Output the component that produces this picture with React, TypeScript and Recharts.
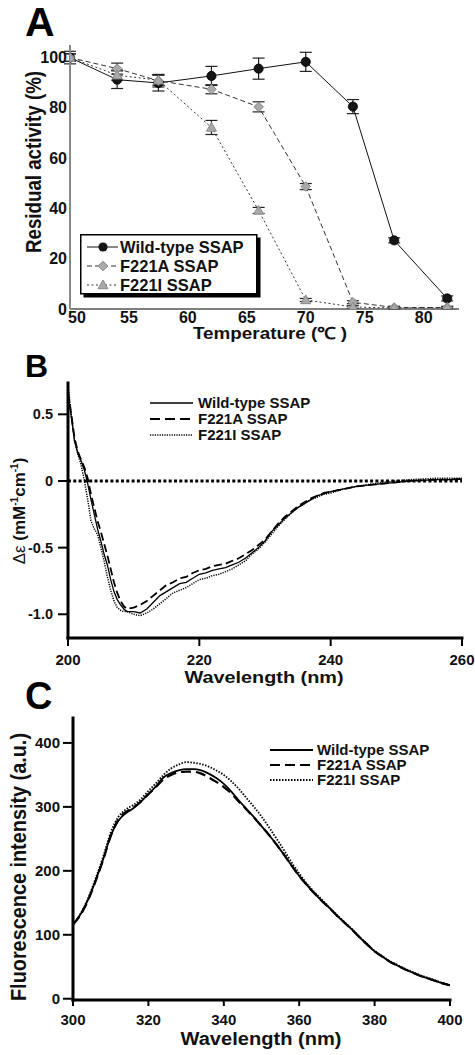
import React from 'react';
import { LineChart, Line, XAxis, YAxis, ErrorBar, ReferenceLine, Legend } from 'recharts';

const FONT = '"Liberation Sans", Arial, Helvetica, sans-serif';

// ---------------- Panel A: residual activity ----------------
const temperatures = [50, 54, 57.5, 62, 66, 70, 74, 77.5, 82];
const wildTypeActivity = [100, 91.2, 89.9, 92.7, 95.6, 98.3, 80.5, 27.3, 4.2];
const wildTypeError = [2.5, 3.5, 3.2, 3.8, 4.2, 3.8, 2.8, 1.0, 1.0];
const f221aActivity = [100, 95.6, 90.8, 87.4, 80.4, 48.7, 2.7, 0.6, 0.6];
const f221aError = [1.5, 2.2, 2.5, 1.8, 2.0, 1.2, 0.6, 0.5, 0.5];
const f221iActivity = [100, 93.0, 91.0, 72.2, 39.2, 3.6, 0.8, 0.4, 0.5];
const f221iError = [1.5, 2.0, 2.0, 2.8, 1.2, 0.6, 0.5, 0.3, 0.3];
const temperatureTicks = [50, 55, 60, 65, 70, 75, 80];
const activityTicks = [0, 20, 40, 60, 80, 100];

// ---------------- Panel B: CD spectra ----------------
const cdWavelengths = [
  200, 200.5, 201, 201.5, 202, 202.5, 203, 203.5, 204, 204.5, 205, 205.5, 206, 206.5, 207, 207.5, 208, 208.5, 209,
  210, 211, 212, 213, 214, 215, 216, 217, 218, 219, 220, 221, 222, 223, 224, 225, 226, 227, 228, 229, 230,
  231, 232, 233, 234, 235, 236, 237, 238, 239, 240,
  242, 244, 246, 248, 250, 252, 254, 256, 258, 260,
];
const cdWildType = [
  0.66, 0.48, 0.30, 0.21, 0.15, 0.08, -0.02, -0.14, -0.25, -0.36, -0.45, -0.55, -0.63, -0.74, -0.83, -0.89, -0.93, -0.96, -0.98,
  -0.98, -0.99, -0.96, -0.91, -0.86, -0.83, -0.80, -0.77, -0.76, -0.73, -0.70, -0.69, -0.67, -0.66, -0.65, -0.63, -0.61, -0.58, -0.54, -0.50, -0.45,
  -0.38, -0.33, -0.28, -0.24, -0.20, -0.17, -0.14, -0.11, -0.095, -0.08,
  -0.06, -0.04, -0.03, -0.02, -0.01, 0.0, 0.005, 0.01, 0.01, 0.015,
];
const cdF221A = [
  0.66, 0.50, 0.32, 0.22, 0.16, 0.10, 0.02, -0.10, -0.20, -0.30, -0.38, -0.47, -0.56, -0.66, -0.76, -0.84, -0.90, -0.94, -0.96,
  -0.95, -0.93, -0.90, -0.86, -0.82, -0.78, -0.76, -0.73, -0.72, -0.69, -0.67, -0.66, -0.64, -0.63, -0.62, -0.60, -0.58, -0.55, -0.52, -0.48, -0.44,
  -0.38, -0.32, -0.27, -0.23, -0.19, -0.16, -0.13, -0.11, -0.09, -0.08,
  -0.06, -0.04, -0.03, -0.02, -0.01, 0.0, 0.005, 0.01, 0.01, 0.015,
];
const cdF221I = [
  0.72, 0.50, 0.30, 0.20, 0.12, 0.00, -0.14, -0.30, -0.36, -0.40, -0.50, -0.60, -0.72, -0.82, -0.90, -0.95, -0.97, -0.98, -0.98,
  -1.00, -1.01, -0.99, -0.96, -0.92, -0.88, -0.84, -0.82, -0.80, -0.77, -0.74, -0.73, -0.71, -0.70, -0.68, -0.66, -0.63, -0.60, -0.55, -0.51, -0.46,
  -0.40, -0.34, -0.29, -0.24, -0.20, -0.17, -0.14, -0.12, -0.10, -0.09,
  -0.06, -0.04, -0.025, -0.01, 0.0, 0.01, 0.015, 0.02, 0.02, 0.02,
];
const cdXTicks = [200, 220, 240, 260];
const cdYTicks = [-1.0, -0.5, 0, 0.5];

// ---------------- Panel C: fluorescence spectra ----------------
const flWavelengths = [
  300, 302, 304, 306, 308, 310, 312, 314, 316, 318, 320, 322, 324, 326, 328, 330, 332, 334, 336, 338, 340,
  342, 344, 346, 348, 350, 352, 354, 356, 358, 360, 362, 364, 366, 368, 370, 372, 374, 376, 378, 380,
  382, 384, 386, 388, 390, 392, 394, 396, 398, 400,
];
const flWildType = [
  116, 132, 155, 185, 218, 255, 278, 290, 298, 308, 320, 332, 346, 353, 357, 359, 359, 357, 352, 345, 336,
  324, 310, 297, 284, 270, 256, 241, 225, 208, 192, 178, 165, 153, 142, 130, 119, 108, 96, 85, 74,
  66, 58, 52, 46, 41, 36, 32, 28, 24, 21,
];
const flF221A = [
  116, 131, 154, 184, 217, 254, 280, 292, 299, 308, 320, 331, 343, 350, 354, 355, 355, 352, 346, 339, 331,
  321, 308, 296, 283, 270, 256, 241, 225, 208, 192, 178, 165, 153, 142, 130, 119, 108, 96, 85, 74,
  66, 58, 52, 46, 41, 36, 32, 28, 24, 21,
];
const flF221I = [
  116, 133, 157, 188, 222, 260, 284, 296, 303, 312, 325, 337, 350, 360, 366, 370, 369, 367, 363, 357, 350,
  340, 328, 314, 300, 285, 268, 250, 232, 213, 196, 180, 167, 155, 143, 131, 120, 109, 97, 86, 75,
  67, 59, 53, 47, 42, 37, 33, 29, 25, 21,
];
const flXTicks = [300, 320, 340, 360, 380, 400];
const flYTicks = [0, 100, 200, 300, 400];

const seriesNames = ['Wild-type SSAP', 'F221A SSAP', 'F221I SSAP'];

// ---------------- tables built from the arrays ----------------
const rowsA = temperatures.map((t, k) => ({
  t,
  wt: wildTypeActivity[k], wtErr: wildTypeError[k],
  fa: f221aActivity[k], faErr: f221aError[k],
  fi: f221iActivity[k], fiErr: f221iError[k],
}));
const rowsB = cdWavelengths.map((w, k) => ({ w, wt: cdWildType[k], fa: cdF221A[k], fi: cdF221I[k] }));
const rowsC = flWavelengths.map((w, k) => ({ w, wt: flWildType[k], fa: flF221A[k], fi: flF221I[k] }));

// ---------------- markers ----------------
const circleDot = (p: any) => (
  <circle key={`c${p.index}`} cx={p.cx} cy={p.cy} r={4.6} fill="#151515" stroke="#000" strokeWidth={0.8} />
);
const diamondPts = (cx: number, cy: number, r: number) => `${cx},${cy - r} ${cx + r},${cy} ${cx},${cy + r} ${cx - r},${cy}`;
const trianglePts = (cx: number, cy: number, r: number) => `${cx},${cy - r} ${cx + r},${cy + r * 0.75} ${cx - r},${cy + r * 0.75}`;
const diamondDot = (p: any) => (
  <polygon key={`d${p.index}`} points={diamondPts(p.cx, p.cy, 4.8)} fill="#a9a9a9" stroke="#8a8a8a" strokeWidth={1} />
);
const triangleDot = (p: any) => (
  <polygon key={`t${p.index}`} points={trianglePts(p.cx, p.cy, 5)} fill="#a9a9a9" stroke="#8a8a8a" strokeWidth={1} />
);

// ---------------- text helpers ----------------
const boldText = { fontFamily: FONT, fontWeight: 700, fill: '#111' } as const;

const tickAY = (p: any) => (
  <text x={p.x} y={p.y + 5.5} textAnchor="end" fontSize={16} {...boldText}>{p.payload.value}</text>
);
const tickAX = (p: any) => (
  <text x={p.x + (p.payload.value === 50 ? 7 : 0)} y={p.y + 13.5} textAnchor="middle" fontSize={16} {...boldText}>{p.payload.value}</text>
);
const fmtCd = (v: number) => (v === 0 ? '0' : v.toFixed(1));
const tickBY = (p: any) => (
  <text x={p.x} y={p.y + 5} textAnchor="end" fontSize={14.5} {...boldText}>{fmtCd(p.payload.value)}</text>
);
const tickBX = (p: any) => (
  <text x={p.x} y={p.y + 19} textAnchor="middle" fontSize={15} {...boldText}>{p.payload.value}</text>
);
const tickCY = (p: any) => (
  <text x={p.x} y={p.y + 5.5} textAnchor="end" fontSize={15} {...boldText}>{p.payload.value}</text>
);
const tickCX = (p: any) => (
  <text x={p.x} y={p.y + 19} textAnchor="middle" fontSize={15} {...boldText}>{p.payload.value}</text>
);

const vLabel = (x: number, y: number, size: number, len: number | undefined, content: React.ReactNode) => () => (
  <text
    x={x}
    y={y}
    transform={`rotate(-90 ${x} ${y})`}
    textAnchor="middle"
    fontSize={size}
    textLength={len}
    lengthAdjust={len ? 'spacingAndGlyphs' : undefined}
    {...boldText}
  >
    {content}
  </text>
);
const hLabel = (x: number, y: number, size: number, len: number, content: string) => () => (
  <text x={x} y={y} textAnchor="middle" fontSize={size} textLength={len} lengthAdjust="spacingAndGlyphs" {...boldText}>
    {content}
  </text>
);

// ---------------- legends ----------------
const LegendA = () => {
  const rows = [13, 32, 51];
  return (
    <svg width={186} height={68} style={{ display: 'block', overflow: 'visible' }}>
      <rect x={3.5} y={3.5} width={177} height={60} fill="#000" />
      <rect x={0.75} y={0.75} width={176} height={59} fill="#fff" stroke="#000" strokeWidth={1.5} />
      <line x1={7} x2={38} y1={rows[0]} y2={rows[0]} stroke="#111" strokeWidth={1} />
      <circle cx={23} cy={rows[0]} r={4.6} fill="#151515" />
      <line x1={7} x2={38} y1={rows[1]} y2={rows[1]} stroke="#333" strokeWidth={1} strokeDasharray="5 3" />
      <polygon points={diamondPts(23, rows[1], 4.8)} fill="#a9a9a9" stroke="#8a8a8a" />
      <line x1={7} x2={38} y1={rows[2]} y2={rows[2]} stroke="#333" strokeWidth={1} strokeDasharray="2 2.5" />
      <polygon points={trianglePts(23, rows[2], 5)} fill="#a9a9a9" stroke="#8a8a8a" />
      {seriesNames.map((n, k) => (
        <text key={n} x={40} y={rows[k] + 6} fontSize={16.5} {...boldText}>{n}</text>
      ))}
    </svg>
  );
};

const makeLineLegend = (rows: number[], textX: number, dash: string[], widths: number[]) => () => (
  <svg width={190} height={60} style={{ display: 'block', overflow: 'visible' }}>
    {seriesNames.map((n, k) => (
      <g key={n}>
        <line x1={5} x2={48} y1={rows[k]} y2={rows[k]} stroke="#000" strokeWidth={widths[k]} strokeDasharray={dash[k]} />
        <text x={textX} y={rows[k] + 5} fontSize={15} {...boldText}>{n}</text>
      </g>
    ))}
  </svg>
);
const LegendB = makeLineLegend([13, 29, 45], 53, ['', '10 5', '1.2 1.2'], [1.5, 2, 1.5]);
const LegendC = makeLineLegend([10, 25, 40], 52, ['', '10 5', '1.5 1.5'], [1.8, 2.2, 1.8]);

const boxLine = { stroke: '#000', strokeWidth: 3, strokeLinecap: 'square' } as const;

export default function App() {
  return (
    <div style={{ position: 'absolute', left: 0, top: 0, width: 475, height: 1055, background: '#fff', fontFamily: FONT }}>
      <svg width={475} height={1055} style={{ position: 'absolute', left: 0, top: 0 }}>
        <text x={25} y={36} fontSize={41} {...boldText} fill="#000">A</text>
        <text x={25} y={377} fontSize={32} {...boldText} fill="#000">B</text>
        <text x={25} y={709} fontSize={38} {...boldText} fill="#000">C</text>
      </svg>

      {/* Panel A */}
      <div style={{ position: 'absolute', left: 0, top: 0 }}>
        <LineChart width={475} height={345} data={rowsA} margin={{ top: 45, right: 16, bottom: 5, left: 10 }}>
          <XAxis
            xAxisId="b" dataKey="t" type="number" domain={[50, 83]} allowDataOverflow ticks={temperatureTicks}
            height={31} tickSize={0} tickMargin={0} tickLine={false}
            axisLine={{ stroke: '#555', strokeWidth: 1.5 }} tick={tickAX}
            label={hLabel(270, 339, 16.5, 154, 'Temperature (℃ )')}
          />
          <XAxis xAxisId="top" dataKey="t" orientation="top" type="number" domain={[50, 83]} allowDataOverflow height={0} tick={false} tickLine={false} axisLine={{ stroke: '#333', strokeWidth: 1.2 }} />
          <YAxis
            yAxisId="l" type="number" domain={[0, 105]} allowDataOverflow ticks={activityTicks} width={60}
            tickSize={0} tickMargin={3} tickLine={false} axisLine={{ stroke: '#888', strokeWidth: 2 }} tick={tickAY}
            label={vLabel(41, 162, 22, 182, 'Residual activity (%)')}
          />
          <YAxis yAxisId="r" orientation="right" type="number" domain={[0, 105]} allowDataOverflow width={0} tick={false} tickLine={false} axisLine={{ stroke: '#333', strokeWidth: 1.2 }} />
          <Line xAxisId="b" yAxisId="l" dataKey="wt" name={seriesNames[0]} stroke="#111" strokeWidth={1} dot={circleDot} activeDot={false} isAnimationActive={false}>
            <ErrorBar dataKey="wtErr" direction="y" width={6} stroke="#222" strokeWidth={1.2} isAnimationActive={false} />
          </Line>
          <Line xAxisId="b" yAxisId="l" dataKey="fa" name={seriesNames[1]} stroke="#333" strokeWidth={1} strokeDasharray="5 3" dot={diamondDot} activeDot={false} isAnimationActive={false}>
            <ErrorBar dataKey="faErr" direction="y" width={6} stroke="#222" strokeWidth={1.2} isAnimationActive={false} />
          </Line>
          <Line xAxisId="b" yAxisId="l" dataKey="fi" name={seriesNames[2]} stroke="#333" strokeWidth={1} strokeDasharray="2 2.5" dot={triangleDot} activeDot={false} isAnimationActive={false}>
            <ErrorBar dataKey="fiErr" direction="y" width={6} stroke="#222" strokeWidth={1.2} isAnimationActive={false} />
          </Line>
          <Legend layout="vertical" align="center" verticalAlign="middle" wrapperStyle={{ left: 80, top: 234, width: 186, height: 68 }} content={LegendA} />
        </LineChart>
      </div>

      {/* Panel B */}
      <div style={{ position: 'absolute', left: 0, top: 345 }}>
        <LineChart width={475} height={345} data={rowsB} margin={{ top: 38, right: 13, bottom: 5, left: 8 }}>
          <XAxis
            xAxisId="b" dataKey="w" type="number" domain={[200, 260]} allowDataOverflow ticks={cdXTicks}
            height={47} tickSize={8} tickMargin={0} tickLine={{ stroke: '#000', strokeWidth: 2 }}
            axisLine={boxLine} tick={tickBX}
            label={hLabel(264, 338, 16.5, 159, 'Wavelength (nm)')}
          />
          <XAxis xAxisId="top" dataKey="w" orientation="top" type="number" domain={[200, 260]} allowDataOverflow height={0} tick={false} tickLine={false} axisLine={boxLine} />
          <YAxis
            yAxisId="l" type="number" domain={[-1.178, 0.735]} allowDataOverflow ticks={cdYTicks} width={60}
            tickSize={10} tickMargin={5} tickLine={{ stroke: '#000', strokeWidth: 2 }} axisLine={boxLine} tick={tickBY}
            label={vLabel(25, 166, 17, undefined, [
              <tspan key="a" fontWeight={400}>Δε</tspan>,
              <tspan key="b"> (mM</tspan>,
              <tspan key="c" fontSize={10} dy={-7}>-1</tspan>,
              <tspan key="d" dy={7}>cm</tspan>,
              <tspan key="e" fontSize={10} dy={-7}>-1</tspan>,
              <tspan key="f" dy={7}>)</tspan>,
            ])}
          />
          <YAxis yAxisId="r" orientation="right" type="number" domain={[-1.178, 0.735]} allowDataOverflow width={0} tick={false} tickLine={false} axisLine={boxLine} />
          <ReferenceLine xAxisId="b" yAxisId="l" y={0} stroke="#000" strokeWidth={3} strokeDasharray="3 2.3" />
          <Line xAxisId="b" yAxisId="l" dataKey="fi" name={seriesNames[2]} stroke="#000" strokeWidth={1.5} strokeDasharray="1.2 1.2" dot={false} activeDot={false} isAnimationActive={false} />
          <Line xAxisId="b" yAxisId="l" dataKey="fa" name={seriesNames[1]} stroke="#000" strokeWidth={1.8} strokeDasharray="8 4" dot={false} activeDot={false} isAnimationActive={false} />
          <Line xAxisId="b" yAxisId="l" dataKey="wt" name={seriesNames[0]} stroke="#000" strokeWidth={1.3} dot={false} activeDot={false} isAnimationActive={false} />
          <Legend layout="vertical" align="center" verticalAlign="middle" wrapperStyle={{ left: 145, top: 45, width: 190, height: 60 }} content={LegendB} />
        </LineChart>
      </div>

      {/* Panel C */}
      <div style={{ position: 'absolute', left: 0, top: 690 }}>
        <LineChart width={475} height={365} data={rowsC} margin={{ top: 28, right: 25, bottom: 0, left: 13 }}>
          <XAxis
            xAxisId="b" dataKey="w" type="number" domain={[300, 400]} allowDataOverflow ticks={flXTicks}
            height={55} tickSize={6} tickMargin={0} tickLine={{ stroke: '#000', strokeWidth: 2 }}
            axisLine={boxLine} tick={tickCX}
            label={hLabel(261, 355, 18, 161, 'Wavelength (nm)')}
          />
          <XAxis xAxisId="top" dataKey="w" orientation="top" type="number" domain={[300, 400]} allowDataOverflow height={0} tick={false} tickLine={false} axisLine={boxLine} />
          <YAxis
            yAxisId="l" type="number" domain={[-2, 439]} allowDataOverflow ticks={flYTicks} width={60}
            tickSize={10} tickMargin={3} tickLine={{ stroke: '#000', strokeWidth: 2 }} axisLine={boxLine} tick={tickCY}
            label={vLabel(26, 177, 22, 268, 'Fluorescence intensity (a.u.)')}
          />
          <YAxis yAxisId="r" orientation="right" type="number" domain={[-2, 439]} allowDataOverflow width={0} tick={false} tickLine={false} axisLine={boxLine} />
          <Line xAxisId="b" yAxisId="l" type="monotone" dataKey="fi" name={seriesNames[2]} stroke="#000" strokeWidth={1.8} strokeDasharray="1.5 1.5" dot={false} activeDot={false} isAnimationActive={false} />
          <Line xAxisId="b" yAxisId="l" type="monotone" dataKey="fa" name={seriesNames[1]} stroke="#000" strokeWidth={2.2} strokeDasharray="10 5" dot={false} activeDot={false} isAnimationActive={false} />
          <Line xAxisId="b" yAxisId="l" type="monotone" dataKey="wt" name={seriesNames[0]} stroke="#000" strokeWidth={1.8} dot={false} activeDot={false} isAnimationActive={false} />
          <Legend layout="vertical" align="center" verticalAlign="middle" wrapperStyle={{ left: 265, top: 50, width: 190, height: 60 }} content={LegendC} />
        </LineChart>
      </div>
    </div>
  );
}
